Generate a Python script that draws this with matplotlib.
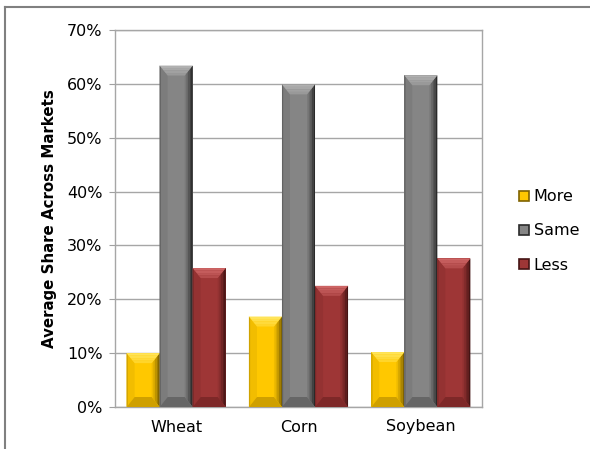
import matplotlib
matplotlib.use("Agg")
import matplotlib.pyplot as plt
from matplotlib.patches import Polygon, Patch
from matplotlib.lines import Line2D
from matplotlib.colors import to_rgb
import numpy as np

categories = ["Wheat", "Corn", "Soybean"]
series_names = ["More", "Same", "Less"]
more = [10.0, 16.8, 10.2]
same = [63.4, 59.9, 61.6]
less = [25.8, 22.5, 27.6]
yticks = [0, 10, 20, 30, 40, 50, 60, 70]
ytick_labels = ["0%", "10%", "20%", "30%", "40%", "50%", "60%", "70%"]

# colours: (face, top, left, right-dark, bottom)
palette = {
    "More": ("#FFC800", "#FFE459", "#F2BD00", "#7F6200", "#CFA000"),
    "Same": ("#858585", "#B0B0B0", "#7C7C7C", "#2A2A2A", "#666666"),
    "Less": ("#9E3636", "#CC6464", "#943232", "#441414", "#7E2828"),
}

plt.rcParams['font.family'] = ['DejaVu Sans']

fig = plt.figure(figsize=(5.90, 4.49), dpi=100)
ax = fig.add_axes([115/590, 42/449, 367/590, 377/449])

x = np.arange(len(categories))
width = 0.27
series = [more, same, less]
bars_all = []
for i, (name, vals) in enumerate(zip(series_names, series)):
    bars = ax.bar(x + (i - 1) * width, vals, width, color=palette[name][0],
                  edgecolor="none", zorder=3, label=name)
    bars_all.append((name, bars))

ax.set_ylim(0, 70)
ax.set_xlim(-0.5, 2.5)
ax.set_yticks(yticks)
ax.set_yticklabels(ytick_labels, fontsize=11.5)
ax.set_xticks(x)
ax.set_xticklabels(categories, fontsize=11.5)
ax.tick_params(axis='x', length=0, pad=9)
ax.tick_params(axis='y', length=4, color="#A0A0A0", pad=5)
ax.yaxis.grid(True, color="#A6A6A6", linewidth=1.0, zorder=0)
ax.set_axisbelow(True)
for s in ax.spines.values():
    s.set_color("#A6A6A6")
    s.set_linewidth(1.0)
ax.set_ylabel("Average Share Across Markets", fontsize=10.8, fontweight="bold", labelpad=7)

def mix(c1, c2, t):
    a, b = np.array(to_rgb(c1)), np.array(to_rgb(c2))
    return tuple(a * (1 - t) + b * t)

# bevels drawn from bar geometry
fig.canvas.draw()
tr = ax.transData
inv = tr.inverted()
bev_v = 10.0
bev_h = 8.0
for name, bars in bars_all:
    face, top, left, right, bottom = palette[name]
    for b in bars:
        x0, y0 = b.get_x(), b.get_y()
        x1, y1 = x0 + b.get_width(), y0 + b.get_height()
        (px0, py0), (px1, py1) = tr.transform([(x0, y0), (x1, y1)])
        bv = min(bev_v, (py1 - py0) / 2)
        polys = []
        # left bevel
        polys.append(([(px0, py0), (px0 + bev_h, py0 + bv), (px0 + bev_h, py1 - bv), (px0, py1)], left))
        polys.append(([(px0, py0), (px0 + 1.2, py0 + 1.5), (px0 + 1.2, py1 - 1.5), (px0, py1)],
                      mix(left, right, 0.3)))
        # right bevel as gradient strips
        n = 5
        for k in range(n):
            a0 = px1 - bev_h * (1 - k / n)
            a1 = px1 - bev_h * (1 - (k + 1) / n)
            fy0 = bv * (1 - k / n)
            fy1 = bv * (1 - (k + 1) / n)
            col = mix(face, right, ((k + 1) / n) ** 1.3)
            polys.append(([(a0, py0 + fy0), (a1, py0 + fy1), (a1, py1 - fy1), (a0, py1 - fy0)], col))
        # bottom bevel
        polys.append(([(px0, py0), (px1, py0), (px1 - bev_h, py0 + bv), (px0 + bev_h, py0 + bv)], bottom))
        # top bevel gradient
        m = 4
        for k in range(m):
            t0 = k / m
            t1 = (k + 1) / m
            col = mix(top, face, t0 * 0.7)
            polys.append(([(px0 + bev_h * t0, py1 - bv * t0), (px1 - bev_h * t0, py1 - bv * t0),
                           (px1 - bev_h * t1, py1 - bv * t1), (px0 + bev_h * t1, py1 - bv * t1)], col))
        for pts, col in polys:
            d = inv.transform(pts)
            ax.add_patch(Polygon(d, closed=True, facecolor=col, edgecolor="none", zorder=4))

handles = [Patch(facecolor=palette[n][0], edgecolor=palette[n][3], linewidth=1.2) for n in series_names]
leg = fig.legend(handles, series_names, loc="center left", bbox_to_anchor=(505/590, 1 - 231/449),
                 frameon=False, fontsize=11.5, handlelength=0.6, handleheight=0.6,
                 labelspacing=1.2, handletextpad=0.3)

# figure frame (top and left lines)
fig.add_artist(Line2D([5/590, 1.0], [1 - 7/449, 1 - 7/449], color="#808080", linewidth=1.5,
                      transform=fig.transFigure))
fig.add_artist(Line2D([5/590, 5/590], [0.0, 1 - 7/449], color="#808080", linewidth=1.5,
                      transform=fig.transFigure))

fig.savefig("out.png", dpi=100, facecolor="white")
